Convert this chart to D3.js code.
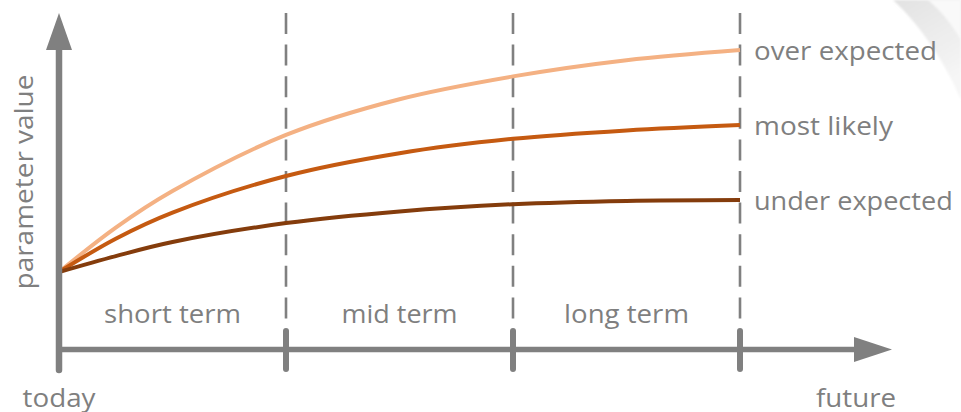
<!DOCTYPE html>
<html>
<head>
<meta charset="utf-8">
<script src="https://cdn.jsdelivr.net/npm/d3@7"></script>
<style>
  html, body { margin: 0; padding: 0; background: #ffffff; }
  svg { display: block; }
  text { font-family: "Open Sans", "DejaVu Sans", sans-serif; fill: #7f7f7f; }
</style>
</head>
<body>
<svg id="chart" width="961" height="412"></svg>
<script>
// Time runs from today (0) to the end of the long term (3)
const periodBounds = [0, 1, 2, 3];
const periodLabels = ["short term", "mid term", "long term"];
const timePoints = [0, 0.25, 0.5, 1, 1.5, 2, 2.5, 3];

// Scenario curves (parameter value, arbitrary units)
const scenarioNames = ["over expected", "most likely", "under expected"];
const overExpected  = [2.6, 4.08, 5.3, 7.17, 8.36, 9.12, 9.66, 10];
const mostLikely    = [2.6, 3.71, 4.58, 5.8, 6.56, 7.04, 7.32, 7.5];
const underExpected = [2.6, 3.13, 3.6, 4.23, 4.62, 4.86, 4.97, 5.0];

const axisLabels = { x0: "today", x1: "future", y: "parameter value" };

const svg = d3.select("#chart");
const grey = "#808080";
const colors = ["#F4B183", "#C55A11", "#843C0C"];

const x = d3.scaleLinear().domain([0, 3]).range([59, 740]);
const y = d3.scaleLinear().domain([0, 10]).range([350, 50]);

// faint decorative swoosh in the upper right corner
const defs = svg.append("defs");
const grad = defs.append("linearGradient").attr("id", "swoosh")
  .attr("x1", 0).attr("y1", 0).attr("x2", 0.4).attr("y2", 1);
grad.append("stop").attr("offset", 0).attr("stop-color", "#e2e2e2");
grad.append("stop").attr("offset", 1).attr("stop-color", "#f6f6f6");
defs.append("filter").attr("id", "soft").append("feGaussianBlur").attr("stdDeviation", 1.2);
svg.append("path")
  .attr("d", "M893,0 C915,20 942,55 961,100 L961,0 Z")
  .attr("fill", "url(#swoosh)")
  .attr("filter", "url(#soft)");
svg.append("path")
  .attr("d", "M928,0 C940,10 952,24 961,40 L961,0 Z")
  .attr("fill", "#f9f9f9")
  .attr("filter", "url(#soft)");

// dashed period boundaries
svg.append("g").selectAll("line")
  .data(periodBounds.slice(1))
  .join("line")
  .attr("x1", d => x(d)).attr("x2", d => x(d))
  .attr("y1", 13).attr("y2", 330)
  .attr("stroke", grey).attr("stroke-width", 2.6)
  .attr("stroke-dasharray", "21 10.6");

// scenario curves
const series = [overExpected, mostLikely, underExpected];
const line = d3.line()
  .x((d, i) => x(timePoints[i]))
  .y(d => y(d))
  .curve(d3.curveCatmullRom.alpha(0.5));

svg.append("g").selectAll("path")
  .data(series)
  .join("path")
  .attr("d", d => line(d))
  .attr("fill", "none")
  .attr("stroke", (d, i) => colors[i])
  .attr("stroke-width", 4)
  .attr("stroke-linecap", "butt");

// axes
const axes = svg.append("g");
// y axis shaft + arrow
axes.append("line")
  .attr("x1", x(0)).attr("x2", x(0))
  .attr("y1", 370).attr("y2", 48)
  .attr("stroke", grey).attr("stroke-width", 6.5).attr("stroke-linecap", "round");
axes.append("path")
  .attr("d", `M${x(0) - 13},50 L${x(0)},13 L${x(0) + 13},50 Z`)
  .attr("fill", grey);
// x axis shaft + arrow
axes.append("line")
  .attr("x1", x(0)).attr("x2", 856)
  .attr("y1", 349.5).attr("y2", 349.5)
  .attr("stroke", grey).attr("stroke-width", 5.5);
axes.append("path")
  .attr("d", "M854,337 L892,349.5 L854,362 Z")
  .attr("fill", grey);
// period ticks on the time axis
axes.selectAll("line.tick")
  .data(periodBounds.slice(1))
  .join("line")
  .attr("class", "tick")
  .attr("x1", d => x(d)).attr("x2", d => x(d))
  .attr("y1", 331).attr("y2", 369)
  .attr("stroke", grey).attr("stroke-width", 6).attr("stroke-linecap", "round");

// text helper: scales glyphs horizontally to a set width
function label(g, str, px, py, size, width, anchor, rotate) {
  const t = g.append("text")
    .attr("font-size", size)
    .attr("text-anchor", anchor)
    .text(str);
  const w = t.node().getComputedTextLength();
  const s = width / w;
  t.attr("transform", `translate(${px},${py})` + (rotate ? ` rotate(${rotate})` : "") + ` scale(${s},1)`);
  return t;
}

const labels = svg.append("g");
const endVals = series.map(s => s[s.length - 1]);
const endWidths = [183, 139, 199];
scenarioNames.forEach((n, i) => {
  label(labels, n, 754, y(endVals[i]) + 10, 26, endWidths[i], "start");
});

const periodWidths = [137, 116, 125];
periodLabels.forEach((n, i) => {
  const cx = (x(periodBounds[i]) + x(periodBounds[i + 1])) / 2;
  label(labels, n, cx, 323, 25, periodWidths[i], "middle");
});

label(labels, axisLabels.x0, x(0), 407, 26, 73, "middle");
label(labels, axisLabels.x1, 856, 407, 26, 80, "middle");
label(labels, axisLabels.y, 33, 182, 25, 215, "middle", -90);
</script>
</body>
</html>
